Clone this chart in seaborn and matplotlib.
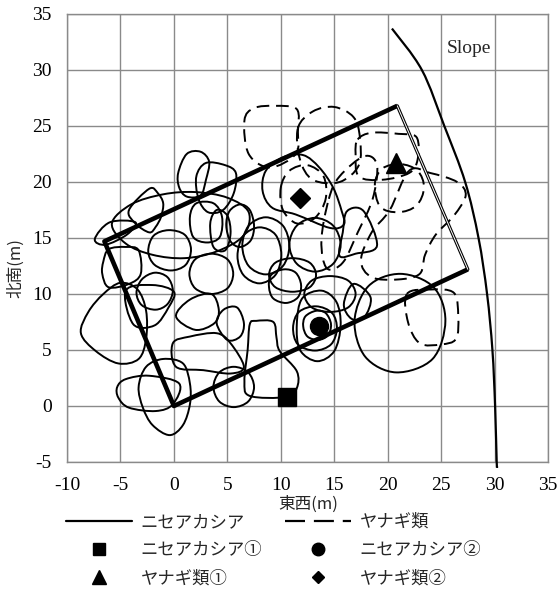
import numpy as np
import matplotlib
matplotlib.use("Agg")
import matplotlib.pyplot as plt
import seaborn as sns
import pandas as pd
from matplotlib.path import Path
from matplotlib.patches import PathPatch
from matplotlib.lines import Line2D

# ---------------- data (metres, east-west / north-south) ----------------
# survey plot outline
plot_x = [27.5, 0.0, -6.5, 20.9]
plot_y = [12.2, 0.0, 14.7, 26.8]

# slope foot line
slope_x = [20.4, 23.2, 25.3, 27.25, 28.5, 29.3, 29.8, 30.05, 30.2, 30.25]
slope_y = [33.7, 30.0, 25.0, 20.0, 15.0, 10.0, 5.0, 0.0, -5.0, -5.4]

# sample trees
tree_names = ["ニセアカシア①", "ニセアカシア②", "ヤナギ類①", "ヤナギ類②"]
tree_x = [10.6, 13.6, 20.8, 11.8]
tree_y = [0.8, 7.1, 21.7, 18.6]
tree_markers = ["s", "o", "^", "D"]

# crown outlines of ニセアカシア (west part of plot)
robinia_west = [
    [(-8.7, 6.5), (-8.0, 8.4), (-6.6, 10.0), (-5.0, 11.0), (-3.4, 10.4), (-2.6, 8.5), (-2.6, 6.0), (-3.3, 4.2), (-5.2, 3.8), (-7.3, 4.9)],
    [(-6.6, 12.9), (-6.1, 14.0), (-4.5, 14.2), (-3.3, 13.9), (-3.1, 11.8), (-4.2, 10.9), (-6.1, 10.6), (-6.7, 11.8)],
    [(-7.4, 14.9), (-6.0, 16.4), (-3.6, 16.4), (-4.4, 15.3), (-6.4, 14.4)],
    [(-4.2, 17.5), (-2.3, 19.4), (-1.5, 19.0), (-1.0, 18.1), (-1.2, 16.9), (-1.7, 16.0), (-2.3, 15.5), (-3.6, 16.3)],
    [(-5.8, 16.3), (-4.0, 18.0), (-1.0, 18.9), (2.0, 19.1), (5.0, 18.6), (7.0, 17.3), (6.5, 15.2), (4.0, 13.8), (1.0, 13.2), (-2.0, 13.5), (-4.5, 14.5)],
    [(-0.1, 10.3), (-0.6, 11.5), (-1.8, 11.9), (-3.0, 11.3), (-3.5, 10.1), (-3.0, 9.0), (-1.7, 8.6), (-0.6, 9.1)],
    [(1.6, 14.0), (1.0, 15.3), (-0.5, 15.7), (-1.9, 15.2), (-2.4, 13.8), (-1.8, 12.6), (-0.3, 12.1), (1.1, 12.6)],
    [(-4.5, 10.3), (-2.0, 10.8), (0.0, 10.2), (-0.5, 8.8), (-1.8, 7.2), (-3.8, 7.3)],
    [(-5.3, 1.7), (-4.5, 2.4), (-2.3, 2.7), (0.5, 2.0), (-0.1, 0.15), (-1.7, -0.45), (-4.2, -0.15), (-5.2, 0.75)],
    [(-3.3, 1.7), (-2.6, 3.5), (-1.0, 4.2), (0.85, 3.8), (1.5, 2.0), (1.5, 0.15), (0.85, -1.7), (-0.4, -2.6), (-2.0, -1.7), (-2.9, -0.15)],
]

# crown outlines of ニセアカシア (central part)
robinia_center = [
    [(0.4, 20.8), (1.2, 22.5), (2.5, 22.7), (3.3, 21.8), (3.0, 20.2), (2.5, 18.8), (1.2, 18.7), (0.5, 19.5)],
    [(2.1, 20.5), (3.0, 21.7), (4.8, 21.5), (5.8, 20.8), (5.6, 19.0), (4.6, 17.5), (3.2, 17.3), (2.3, 18.5)],
    [(1.5, 16.9), (2.1, 18.1), (3.7, 18.1), (4.5, 16.9), (4.3, 15.1), (3.1, 14.6), (1.8, 15.1)],
    [(3.4, 16.3), (4.0, 17.5), (5.0, 17.0), (5.3, 15.4), (4.8, 13.9), (3.7, 14.2)],
    [(7.5, 16.1), (7.1, 17.5), (6.2, 18.0), (5.2, 17.4), (4.9, 16.1), (5.3, 14.7), (6.2, 14.2), (7.2, 14.8)],
    [(10.05, 13.5), (9.5, 15.3), (8.0, 15.95), (6.5, 15.2), (5.95, 13.4), (6.5, 11.7), (8.0, 10.95), (9.5, 11.7)],
    [(5.55, 11.8), (5.0, 13.1), (3.5, 13.6), (2.0, 13.1), (1.45, 11.8), (2.0, 10.5), (3.5, 10.0), (5.0, 10.5)],
    [(-0.1, 5.6), (1.5, 6.2), (4.0, 6.5), (5.3, 5.6), (6.55, 3.5), (5.3, 2.9), (2.75, 3.2), (0.2, 3.5)],
    [(7.5, 1.7), (6.95, 3.0), (5.6, 3.5), (4.25, 3.0), (3.7, 1.7), (4.25, 0.4), (5.6, -0.1), (6.95, 0.4)],
    [(4.0, 7.4), (4.65, 8.6), (5.9, 8.8), (6.55, 7.4), (6.2, 6.2), (5.0, 5.9)],
    [(10.5, 0.8), (7.1, 0.9), (6.6, 2.2), (6.9, 5.0), (7.1, 7.3), (7.7, 7.6), (9.3, 7.5), (9.6, 6.1), (9.9, 4.9), (11.5, 3.1), (11.5, 1.6)],
    [(0.2, 8.0), (1.5, 9.5), (3.5, 10.0), (4.2, 8.6), (3.8, 7.4), (2.0, 6.8)],
]

# crown outlines of ニセアカシア (east part)
robinia_east = [
    [(8.3, 19.2), (8.6, 21.0), (10.2, 22.2), (12.1, 22.4), (13.6, 21.3), (14.9, 19.5), (15.7, 17.4), (15.9, 16.2), (14.6, 15.9), (11.4, 17.1), (9.2, 17.7)],
    [(16.2, 17.4), (17.75, 17.4), (19.0, 14.3), (17.0, 13.6), (15.5, 13.4), (15.8, 15.5)],
    [(10.8, 14.3), (10.2, 16.1), (8.6, 16.85), (7.0, 16.1), (6.4, 14.3), (7.0, 12.5), (8.6, 11.75), (10.2, 12.5)],
    [(15.6, 14.4), (14.9, 16.1), (13.2, 16.8), (11.5, 16.1), (10.8, 14.4), (11.5, 12.7), (13.2, 12.0), (14.9, 12.7)],
    [(13.3, 11.7), (12.7, 12.8), (11.1, 13.2), (9.5, 12.8), (8.9, 11.7), (9.5, 10.6), (11.1, 10.2), (12.7, 10.6)],
    [(17.0, 10.0), (16.3, 11.2), (14.6, 11.6), (12.9, 11.2), (12.2, 10.0), (12.9, 8.8), (14.6, 8.4), (16.3, 8.8)],
    [(15.25, 6.9), (14.8, 8.3), (13.3, 8.9), (11.7, 8.4), (11.15, 7.0), (11.6, 5.5), (13.2, 4.95), (14.7, 5.5)],
    [(15.6, 7.2), (15.2, 9.3), (13.8, 10.3), (12.0, 9.6), (11.5, 7.3), (11.8, 5.0), (13.4, 4.0), (15.0, 4.9)],
    [(14.7, 7.3), (14.2, 8.3), (13.3, 8.5), (12.3, 8.0), (12.1, 7.1), (12.5, 6.2), (13.5, 5.9), (14.4, 6.3)],
    [(25.4, 7.6), (24.3, 10.6), (21.2, 11.8), (18.2, 10.7), (16.9, 7.6), (17.9, 4.4), (20.8, 3.0), (24.2, 4.2)],
    [(15.9, 9.1), (16.8, 10.9), (18.4, 9.7), (17.8, 7.9), (16.6, 7.8)],
    [(11.9, 10.8), (11.4, 11.9), (10.3, 12.2), (9.1, 11.7), (8.9, 10.6), (9.3, 9.6), (10.5, 9.2), (11.6, 9.7)],
]

# crown outlines of ヤナギ類
willow_crowns = [
    [(6.6, 25.5), (7.5, 26.6), (9.5, 26.8), (11.5, 26.5), (11.6, 24.5), (11.4, 22.5), (9.0, 21.3), (7.0, 22.5)],
    [(11.6, 24.8), (13.0, 26.3), (15.0, 26.7), (16.8, 25.8), (17.4, 24.0), (17.3, 21.5), (15.5, 20.0), (13.0, 20.2), (11.8, 22.0)],
    [(17.2, 23.8), (18.5, 24.4), (21.0, 24.3), (22.7, 24.0), (22.8, 22.0), (22.0, 20.8), (19.5, 20.2), (17.3, 20.5), (17.0, 22.5)],
    [(18.8, 19.8), (19.5, 21.2), (21.2, 21.6), (22.8, 21.0), (23.4, 19.5), (22.7, 17.9), (21.0, 17.3), (19.3, 17.8)],
    [(22.0, 21.0), (24.0, 20.8), (26.5, 20.0), (27.3, 18.8), (26.2, 17.0), (24.5, 15.3), (23.5, 13.5), (23.0, 11.8), (21.0, 11.3), (18.5, 11.5), (17.5, 13.0), (18.5, 15.5), (20.2, 17.5)],
    [(21.8, 10.0), (24.0, 10.4), (26.2, 10.1), (26.6, 8.0), (26.4, 6.0), (25.0, 5.5), (23.0, 5.6), (21.9, 7.5)],
    [(10.0, 19.5), (10.8, 21.0), (12.5, 21.5), (14.0, 20.5), (14.2, 18.5), (13.2, 16.8), (11.5, 16.3), (10.2, 17.5)],
    [(14.5, 18.5), (15.5, 20.5), (17.8, 22.3), (19.0, 21.5), (18.6, 18.5), (17.2, 15.5), (15.8, 12.8), (14.3, 12.3), (13.8, 14.8)],
]

x_ticks = list(range(-10, 36, 5))
y_ticks = list(range(-5, 36, 5))
x_label = "東西(m)"
y_label = "北南(m)"
robinia_label = "ニセアカシア"
willow_label = "ヤナギ類"

# ---------------- styling ----------------
sns.set_theme(style="white")
plt.rcParams["font.family"] = ["Liberation Serif", "Noto Sans CJK JP", "DejaVu Sans"]
CJK = ["Noto Sans CJK JP", "DejaVu Sans"]
GRID = "#8a8a8a"


def smooth_path(points, closed=True):
    """Smooth outline through the given points (Catmull-Rom drawn as cubic Bezier)."""
    p = np.asarray(points, dtype=float)
    n = len(p)
    if not closed:
        p = np.vstack([p[0], p, p[-1]])
    verts = [p[0] if closed else p[1]]
    codes = [Path.MOVETO]
    rng = range(n) if closed else range(1, n)
    for i in rng:
        m = len(p)
        p0, p1, p2, p3 = p[(i - 1) % m], p[i % m], p[(i + 1) % m], p[(i + 2) % m]
        verts += [p1 + (p2 - p0) / 6.0, p2 - (p3 - p1) / 6.0, p2]
        codes += [Path.CURVE4] * 3
    return Path(verts, codes)


fig = plt.figure(figsize=(5.6, 5.92), dpi=100)
ax = fig.add_axes([67 / 560, 1 - 462 / 592, (548 - 67) / 560, 448 / 592])

ax.set_xlim(-10, 35)
ax.set_ylim(-5, 35)
ax.set_xticks(x_ticks)
ax.set_yticks(y_ticks)
ax.set_xticklabels([str(v) for v in x_ticks])
ax.set_yticklabels([str(v) for v in y_ticks])
ax.grid(True, color=GRID, lw=1.0, zorder=0)
ax.set_axisbelow(True)
for s in ax.spines.values():
    s.set_color(GRID)
    s.set_linewidth(1.0)
ax.tick_params(length=0, labelsize=14, colors="black")
ax.tick_params(axis="x", pad=11)
ax.tick_params(axis="y", pad=11)

# crowns
for crown in robinia_west + robinia_center + robinia_east:
    ax.add_patch(PathPatch(smooth_path(crown), fill=False, ec="black", lw=1.4, zorder=2))
for crown in willow_crowns:
    ax.add_patch(PathPatch(smooth_path(crown), fill=False, ec="black", lw=1.4,
                           ls=(0, (6.5, 3.5)), zorder=2))

# survey plot: three heavy sides, east side as a thin double line
outline = pd.DataFrame({"x": plot_x, "y": plot_y})
sns.lineplot(data=outline, x="x", y="y", sort=False, estimator=None,
             color="black", lw=3.3, ax=ax, zorder=3, solid_capstyle="butt")
east_side = pd.DataFrame({"x": [plot_x[-1], plot_x[0]], "y": [plot_y[-1], plot_y[0]]})
sns.lineplot(data=east_side, x="x", y="y", sort=False, estimator=None,
             color="black", lw=2.3, ax=ax, zorder=3)
sns.lineplot(data=east_side, x="x", y="y", sort=False, estimator=None,
             color="white", lw=0.7, ax=ax, zorder=3)

# slope line
slope_pts = list(zip(slope_x, slope_y))
ax.add_patch(PathPatch(smooth_path(slope_pts, closed=False), fill=False, ec="black",
                       lw=1.6, zorder=3, clip_on=False))
ax.text(27.6, 31.9, "Slope", fontsize=14, family="Liberation Serif", ha="center", va="center")

# sample trees
marker_sizes = {"s": 13.5, "o": 13, "^": 15, "D": 10}
for name, xv, yv, m in zip(tree_names, tree_x, tree_y, tree_markers):
    ax.plot([xv], [yv], marker=m, ms=marker_sizes[m], color="black", ls="none", zorder=4)

ax.set_xlabel("")
ax.set_ylabel("")
fig.text(308 / 560, 1 - 504 / 592, x_label, family=CJK, fontsize=12, ha="center", va="center")
fig.text(16 / 560, 1 - 268 / 592, y_label, family=CJK, fontsize=12, ha="center", va="center", rotation=90)

# legend
handles = [
    Line2D([], [], color="black", lw=1.6),
    Line2D([], [], marker="s", color="black", ls="none", ms=9),
    Line2D([], [], marker="^", color="black", ls="none", ms=9.5),
    Line2D([], [], color="black", lw=1.6, ls=(0, (9, 4))),
    Line2D([], [], marker="o", color="black", ls="none", ms=9),
    Line2D([], [], marker="D", color="black", ls="none", ms=6.5),
]
labels = [robinia_label, tree_names[0], tree_names[2], willow_label, tree_names[1], tree_names[3]]
leg = fig.legend(handles, labels, ncol=2, loc="upper left",
                 bbox_to_anchor=(66 / 560, 1 - 513 / 592), bbox_transform=fig.transFigure,
                 frameon=False, borderpad=0, borderaxespad=0, handlelength=3.8,
                 handletextpad=0.5, columnspacing=1.3, labelspacing=0.58,
                 prop={"family": CJK, "size": 12.5})

fig.savefig("out.png", dpi=100)
